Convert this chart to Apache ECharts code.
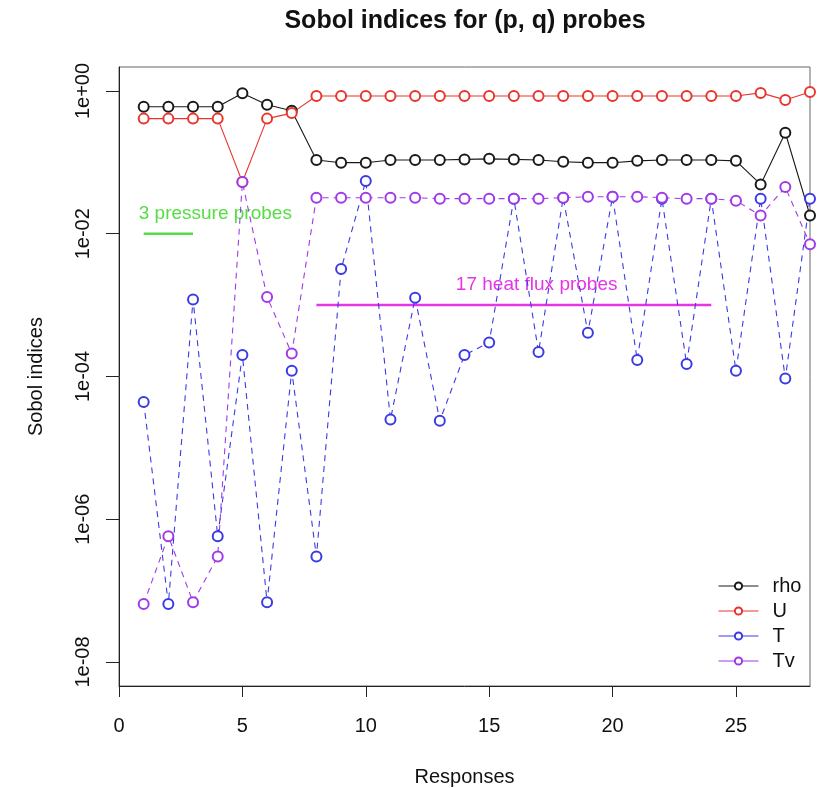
<!DOCTYPE html>
<html>
<head>
<meta charset="utf-8">
<script src="https://cdn.jsdelivr.net/npm/echarts@6/dist/echarts.min.js"></script>
<style>
  html, body { margin: 0; padding: 0; background: #fff; }
  #main { width: 819px; height: 788px; }
</style>
</head>
<body>
<div id="main"></div>
<script>
// 数据
const responses = [1, 2, 3, 4, 5, 6, 7, 8, 9, 10, 11, 12, 13, 14, 15, 16, 17, 18, 19, 20, 21, 22, 23, 24, 25, 26, 27, 28]
const rho = [0.6, 0.6, 0.6, 0.6, 0.93, 0.64, 0.53, 0.108, 0.099, 0.099, 0.108, 0.108, 0.108, 0.11, 0.112, 0.11, 0.108, 0.102, 0.099, 0.099, 0.105, 0.108, 0.108, 0.108, 0.105, 0.049, 0.26, 0.018]
const U = [0.41, 0.41, 0.41, 0.41, 0.053, 0.41, 0.49, 0.85, 0.85, 0.85, 0.85, 0.85, 0.85, 0.85, 0.85, 0.85, 0.85, 0.85, 0.85, 0.85, 0.85, 0.85, 0.85, 0.85, 0.85, 0.94, 0.75, 0.97]
const T = [4.4e-5, 6.5e-8, 1.2e-3, 5.8e-7, 2e-4, 6.9e-8, 1.2e-4, 3e-7, 3.2e-3, 0.055, 2.5e-5, 1.27e-3, 2.4e-5, 2e-4, 3e-4, 0.031, 2.2e-4, 0.032, 4.1e-4, 0.033, 1.7e-4, 0.031, 1.5e-4, 0.031, 1.2e-4, 0.031, 9.4e-5, 0.031]
const Tv = [6.5e-8, 5.8e-7, 6.9e-8, 3e-7, 0.053, 1.3e-3, 2.1e-4, 0.032, 0.032, 0.032, 0.032, 0.032, 0.031, 0.031, 0.031, 0.031, 0.031, 0.032, 0.033, 0.033, 0.033, 0.032, 0.031, 0.031, 0.029, 0.018, 0.045, 0.0071]
const xTicks = [0, 5, 10, 15, 20, 25]
const yTicks = [1e-8, 1e-6, 1e-4, 1e-2, 1]

// 注释线
const pressureLine = [[1, 0.01], [3, 0.01]]
const heatLine = [[8, 0.001], [24, 0.001]]
const pressureText = '3 pressure probes'
const heatText = '17 heat flux probes'
const pressureTextAt = [0.8, 0.019]
const heatTextAt = [13.65, 0.0019]

const font = 'Liberation Sans, Arial, sans-serif'
const colors = { rho: '#1a1a1a', U: '#e8362e', T: '#3b3be6', Tv: '#a03ae8' }

const pair = arr => arr.map((v, i) => [responses[i], v])
const fmtExp = v => {
  const e = Math.round(Math.log10(v))
  return '1e' + (e < 0 ? '-' : '+') + String(Math.abs(e)).padStart(2, '0')
}

const mkSeries = (name, arr, dashed) => ({
  name: name,
  type: 'line',
  data: pair(arr),
  symbol: 'emptyCircle',
  symbolSize: 10,
  color: colors[name],
  lineStyle: { width: 1.1, type: dashed ? [6, 5] : 'solid', color: colors[name] },
  itemStyle: { color: colors[name], borderWidth: 1.1, borderColor: colors[name] },
  emphasis: { disabled: true },
  z: 3
})

const chart = echarts.init(document.getElementById('main'))

const optionData = {
  animation: false,
  backgroundColor: '#fff',
  textStyle: { fontFamily: font },
  title: {
    text: 'Sobol indices for (p, q) probes',
    left: 460,
    textAlign: 'center',
    top: 4,
    textStyle: { fontSize: 25, fontWeight: 'bold', color: '#111', fontFamily: font }
  },
  grid: {
    left: 119, right: 9, top: 67, bottom: 102,
    outerBoundsMode: 'none',
    show: true, borderColor: '#666', borderWidth: 1
  },
  legend: {
    data: ['rho', 'U', 'T', 'Tv'],
    orient: 'vertical',
    left: 713,
    top: 571,
    itemWidth: 40,
    itemHeight: 9,
    itemGap: 5,
    lineStyle: { type: 'solid', width: 1 },
    textStyle: { fontSize: 20, color: '#111', fontFamily: font, padding: [0, 0, 0, 9] }
  },
  xAxis: {
    type: 'value',
    min: 0,
    max: 28,
    name: 'Responses',
    nameLocation: 'middle',
    nameGap: 81,
    nameTextStyle: { fontSize: 20, color: '#111' },
    axisLine: { show: true, onZero: false, lineStyle: { color: '#222' } },
    axisTick: { show: true, length: 11, customValues: xTicks, lineStyle: { color: '#222' } },
    axisLabel: { customValues: xTicks, fontSize: 20, color: '#111', margin: 30 },
    splitLine: { show: false }
  },
  yAxis: {
    type: 'log',
    logBase: 10,
    min: Math.pow(10, -8.336),
    max: Math.pow(10, 0.336),
    name: 'Sobol indices',
    nameLocation: 'middle',
    nameGap: 73,
    nameTextStyle: { fontSize: 20, color: '#111' },
    axisLine: { show: true, lineStyle: { color: '#222' } },
    axisTick: { show: true, length: 13, customValues: yTicks, lineStyle: { color: '#222' } },
    axisLabel: { customValues: yTicks, fontSize: 20, color: '#111', rotate: 90, margin: 26, formatter: fmtExp },
    splitLine: { show: false },
    minorTick: { show: false }
  },
  series: [
    mkSeries('rho', rho, false),
    mkSeries('U', U, false),
    mkSeries('T', T, true),
    mkSeries('Tv', Tv, true),
    {
      name: 'pressure', type: 'line', data: pressureLine, symbol: 'none',
      lineStyle: { color: '#55dd44', width: 2.5 }, silent: true, z: 2
    },
    {
      name: 'heat', type: 'line', data: heatLine, symbol: 'none',
      lineStyle: { color: '#e634e6', width: 2.5 }, silent: true, z: 2
    }
  ]
}

chart.setOption(optionData)

// 注释文字
const p1 = chart.convertToPixel({ gridIndex: 0 }, pressureTextAt)
const p2 = chart.convertToPixel({ gridIndex: 0 }, heatTextAt)
chart.setOption({
  graphic: [
    {
      type: 'text', x: p1[0], y: p1[1],
      style: { text: pressureText, fill: '#55dd44', font: '19px ' + font, textVerticalAlign: 'middle' }
    },
    {
      type: 'text', x: p2[0], y: p2[1],
      style: { text: heatText, fill: '#e634e6', font: '19px ' + font, textVerticalAlign: 'middle' }
    }
  ]
})
</script>
</body>
</html>
